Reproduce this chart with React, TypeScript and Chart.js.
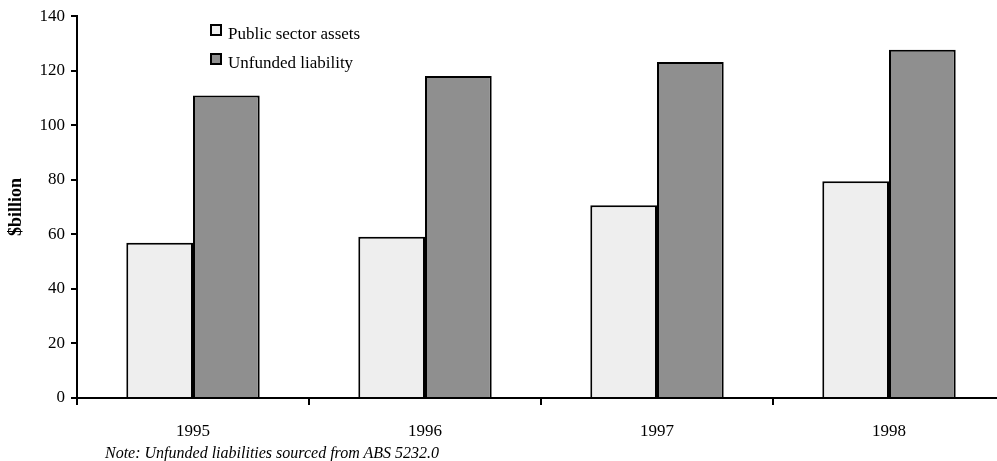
import React, { useEffect, useRef } from "react";
import { Chart, registerables } from "chart.js";

Chart.register(...registerables);

const categories = ["1995", "1996", "1997", "1998"];
const publicSectorAssets = [56.9, 59.1, 70.7, 79.5];
const unfundedLiability = [110.9, 118.1, 123.2, 127.7];
const seriesNames = ["Public sector assets", "Unfunded liability"];
const seriesColors = ["#EEEEEE", "#8F8F8F"];
const yTicks = [0, 20, 40, 60, 80, 100, 120, 140];
const yTitle = "$billion";
const note = "Note: Unfunded liabilities sourced from ABS 5232.0";

const FONT = "'Liberation Serif', 'Times New Roman', serif";

const legendPlugin = {
  id: "insideLegend",
  afterDraw(chart: any) {
    const ctx = chart.ctx;
    ctx.save();
    const x = 211;
    const y0 = 25;
    const gap = 29;
    chart.data.datasets.forEach((ds: any, i: number) => {
      const y = y0 + i * gap;
      ctx.fillStyle = ds.backgroundColor;
      ctx.fillRect(x, y, 10, 10);
      ctx.strokeStyle = "#000";
      ctx.lineWidth = 2;
      ctx.strokeRect(x, y, 10, 10);
      ctx.fillStyle = "#000";
      ctx.font = `17px ${FONT}`;
      ctx.textBaseline = "middle";
      ctx.textAlign = "left";
      ctx.fillText(ds.label, x + 17, y + 10);
    });
    ctx.restore();
  },
};

export default function App() {
  const ref = useRef<HTMLCanvasElement | null>(null);

  useEffect(() => {
    if (!ref.current) return;
    const chart = new Chart(ref.current, {
      type: "bar",
      data: {
        labels: categories,
        datasets: [
          {
            label: seriesNames[0],
            data: publicSectorAssets,
            backgroundColor: seriesColors[0],
            borderColor: "#000",
            borderWidth: 2,
            categoryPercentage: 0.575,
            barPercentage: 1,
          },
          {
            label: seriesNames[1],
            data: unfundedLiability,
            backgroundColor: seriesColors[1],
            borderColor: "#000",
            borderWidth: 2,
            categoryPercentage: 0.575,
            barPercentage: 1,
          },
        ],
      },
      options: {
        animation: false,
        responsive: true,
        maintainAspectRatio: false,
        layout: { padding: { top: 14, right: 7, left: 0, bottom: 0 } },
        plugins: {
          legend: { display: false },
          tooltip: { enabled: false },
        },
        scales: {
          x: {
            grid: {
              display: true,
              offset: true,
              drawOnChartArea: false,
              drawTicks: true,
              tickLength: 7,
              color: "#000",
              lineWidth: 2,
            },
            border: { display: true, color: "#000", width: 2 },
            ticks: {
              color: "#000",
              font: { family: FONT, size: 17 },
              padding: 16,
            },
            afterFit: (s: any) => {
              s.height = 63;
            },
          },
          y: {
            min: 0,
            max: 140,
            afterBuildTicks: (s: any) => {
              s.ticks = yTicks.map((v) => ({ value: v }));
            },
            grid: {
              display: true,
              drawOnChartArea: false,
              drawTicks: true,
              tickLength: 6,
              color: "#000",
              lineWidth: 2,
            },
            border: { display: true, color: "#000", width: 2 },
            ticks: {
              color: "#000",
              font: { family: FONT, size: 17 },
              padding: 6,
            },
            title: {
              display: true,
              text: yTitle,
              color: "#000",
              font: { family: FONT, size: 18, weight: "bold" },
              padding: { top: 6, bottom: 4 },
            },
            afterFit: (s: any) => {
              s.width = 77;
            },
          },
        },
      },
      plugins: [legendPlugin],
    });
    return () => chart.destroy();
  }, []);

  return (
    <div
      style={{
        position: "fixed",
        left: 0,
        top: 0,
        width: 997,
        height: 461,
        overflow: "hidden",
        background: "#fff",
      }}
    >
      <div style={{ position: "absolute", left: 0, top: 0, width: 1012, height: 461 }}>
        <canvas ref={ref} />
      </div>
      <div
        style={{
          position: "absolute",
          left: 105,
          top: 444,
          fontFamily: FONT,
          fontStyle: "italic",
          fontSize: 16,
          lineHeight: "18px",
          color: "#000",
          whiteSpace: "nowrap",
        }}
      >
        {note}
      </div>
    </div>
  );
}
